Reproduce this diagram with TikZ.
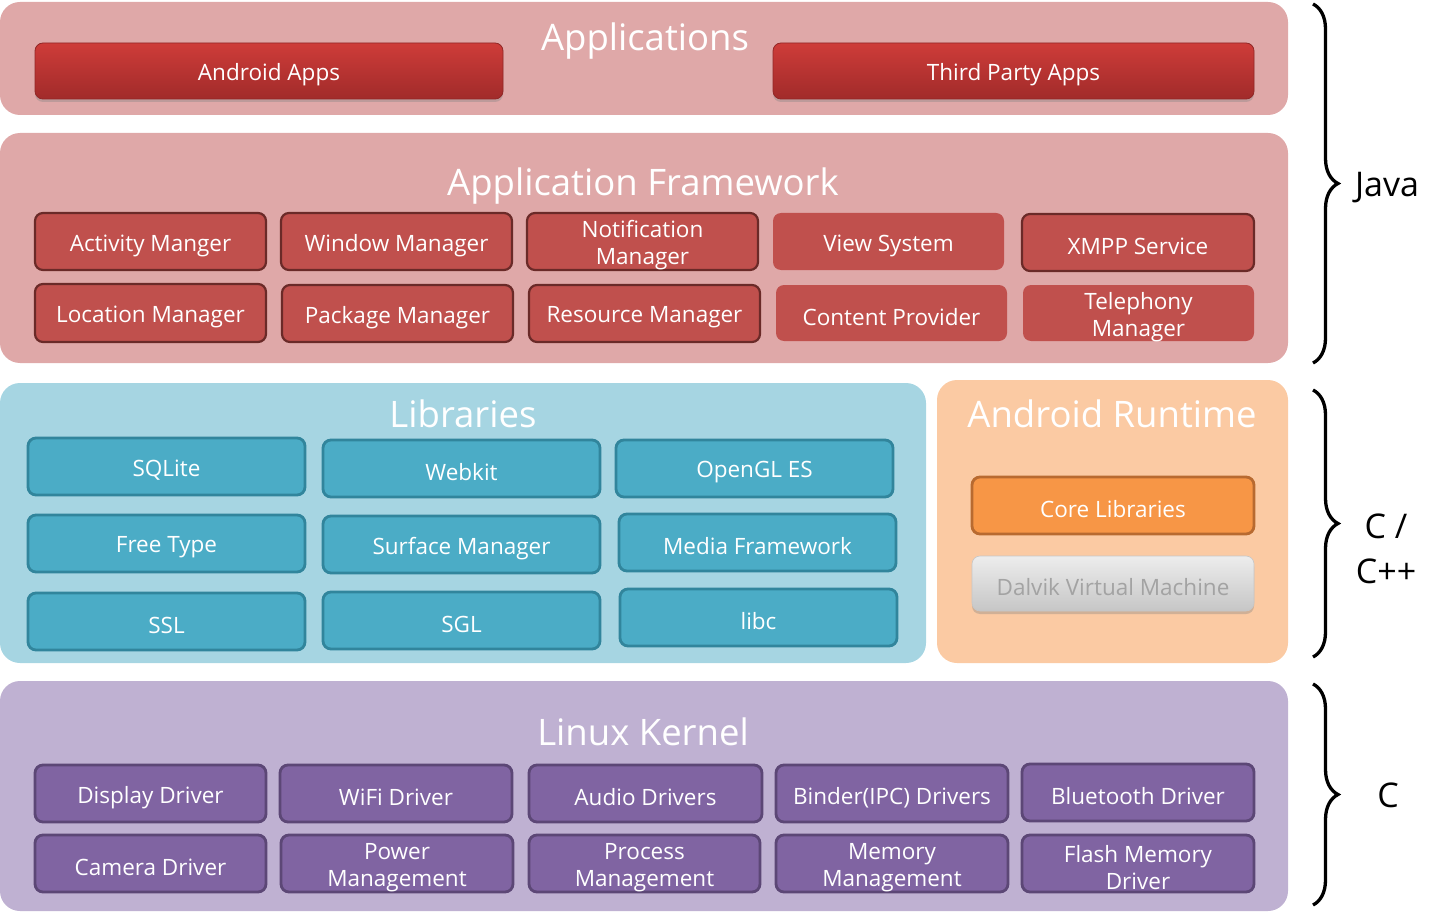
\documentclass[tikz,border=0pt]{standalone}
\usepackage{fontspec}
\setmainfont{Open Sans}
\usetikzlibrary{shadows,decorations.pathreplacing}
\definecolor{appbg}{HTML}{DFA8A8}
\definecolor{libbg}{HTML}{A6D5E2}
\definecolor{rtbg}{HTML}{FBCAA3}
\definecolor{krbg}{HTML}{BFB1D2}
\definecolor{fwfill}{HTML}{C0504D}
\definecolor{fwline}{HTML}{6A2A28}
\definecolor{libfill}{HTML}{4BACC6}
\definecolor{libline}{HTML}{31859C}
\definecolor{krfill}{HTML}{8064A2}
\definecolor{krline}{HTML}{5C4776}
\definecolor{corefill}{HTML}{F79646}
\definecolor{coreline}{HTML}{B86A30}
\definecolor{redtop}{HTML}{CE3C39}
\definecolor{redbot}{HTML}{A12B2A}
\definecolor{graytop}{HTML}{EDEDED}
\definecolor{graybot}{HTML}{C6C6C6}
\definecolor{graytxt}{HTML}{A3A3A3}
\newcommand\BX[8][white]{\node[#2, minimum width={#5-#3}, minimum height={#6-#4}] (#7) at ({(#3+#5)/2},{(#4+#6)/2}) {};
  \node[btxt, text=#1] (#7t) at ([yshift=-4pt]#7.center) {#8};}
\newcommand\PN[6]{\node[#1, minimum width={#4-#2}, minimum height={#5-#3}] (#6) at ({(#2+#4)/2},{(#3+#5)/2}) {};}
\begin{document}
\begin{tikzpicture}[x=1pt,y=-1pt,
  panel/.style={rounded corners=20pt, inner sep=0pt},
  ttl/.style={text=white, font=\fontsize{36.5}{40}\selectfont, inner sep=0pt},
  box/.style={rounded corners=8pt, line width=2.2pt, inner sep=0pt},
  btxt/.style={align=center, inner sep=0pt, font=\fontsize{22.5}{27}\selectfont},
  fwbox/.style={box, fill=fwfill, draw=fwline},
  fwplain/.style={box, fill=fwfill},
  libbox/.style={box, fill=libfill, draw=libline, line width=2.8pt},
  krbox/.style={box, fill=krfill, draw=krline, line width=2.8pt},
  appbtn/.style={box, top color=redtop, bottom color=redbot, draw=redbot!90!black, line width=0.8pt,
    drop shadow={shadow xshift=0pt, shadow yshift=-3pt, opacity=0.35}},
  corebox/.style={box, fill=corefill, draw=coreline, line width=2.8pt},
  dvbox/.style={box, top color=graytop, bottom color=graybot, draw=graybot, line width=0.6pt,
    drop shadow={shadow xshift=0pt, shadow yshift=-3pt, opacity=0.35}},
  brc/.style={decorate, decoration={brace, amplitude=25pt}, line width=3.3pt},
  lang/.style={font=\fontsize{34}{45}\selectfont, align=center, inner sep=0pt}
]
\useasboundingbox (0,0) rectangle (1451,912);
% panels
\PN{panel, fill=appbg}{0}{2}{1288}{115}{papp}
\PN{panel, fill=appbg}{0}{133}{1288}{363}{pfw}
\PN{panel, fill=libbg}{0}{383}{926}{663}{plib}
\PN{panel, fill=rtbg}{937}{380}{1288}{663}{prt}
\PN{panel, fill=krbg}{0}{681}{1288}{911}{pkr}
% titles
\node[ttl] (tapp) at (645,41) {Applications};
\node[ttl] (tfw) at (643,186) {Application Framework};
\node[ttl] (tlib) at (463,414) {Libraries};
\node[ttl] (trt) at (1112,414) {Android Runtime};
\node[ttl] (tkr) at (643,732) {Linux Kernel};
% applications
\BX{appbtn}{35}{43}{503}{99}{aa}{Android Apps}
\BX{appbtn}{773}{43}{1254}{99}{tpa}{Third Party Apps}
% framework
\BX{fwbox}{35}{213}{266}{270}{f1}{Activity Manger}
\BX{fwbox}{281}{213}{512}{270}{f2}{Window Manager}
\BX{fwbox}{527}{213}{758}{270}{f3}{Notification\\Manager}
\BX{fwplain}{773}{213}{1004}{270}{f4}{View System}
\BX{fwbox}{1022}{214}{1254}{271}{f5}{XMPP Service}
\BX{fwbox}{35}{284}{266}{342}{f6}{Location Manager}
\BX{fwbox}{282}{285}{513}{342}{f7}{Package Manager}
\BX{fwbox}{529}{285}{760}{342}{f8}{Resource Manager}
\BX{fwplain}{776}{285}{1007}{341}{f9}{Content Provider}
\BX{fwplain}{1023}{285}{1254}{341}{f10}{Telephony\\Manager}
% libraries
\BX{libbox}{28}{438}{305}{495}{l1}{SQLite}
\BX{libbox}{323}{440}{600}{497}{l2}{Webkit}
\BX{libbox}{616}{440}{893}{497}{l3}{OpenGL ES}
\BX{libbox}{28}{515}{305}{572}{l4}{Free Type}
\BX{libbox}{323}{516}{600}{573}{l5}{Surface Manager}
\BX{libbox}{619}{514}{896}{571}{l6}{Media Framework}
\BX{libbox}{28}{593}{305}{650}{l7}{SSL}
\BX{libbox}{323}{592}{600}{649}{l8}{SGL}
\BX{libbox}{620}{589}{897}{646}{l9}{libc}
% runtime
\BX{corebox}{972}{477}{1254}{534}{core}{Core Libraries}
\BX[graytxt]{dvbox}{972}{556}{1254}{611}{dvm}{Dalvik Virtual Machine}
% kernel
\BX{krbox}{35}{765}{266}{822}{k1}{Display Driver}
\BX{krbox}{280}{765}{512}{822}{k2}{WiFi Driver}
\BX{krbox}{529}{765}{762}{822}{k3}{Audio Drivers}
\BX{krbox}{776}{765}{1008}{822}{k4}{Binder(IPC) Drivers}
\BX{krbox}{1022}{764}{1254}{821}{k5}{Bluetooth Driver}
\BX{krbox}{35}{835}{266}{892}{k6}{Camera Driver}
\BX{krbox}{281}{835}{513}{892}{k7}{Power\\Management}
\BX{krbox}{529}{835}{760}{892}{k8}{Process\\Management}
\BX{krbox}{776}{835}{1008}{892}{k9}{Memory\\Management}
\BX{krbox}{1022}{835}{1254}{892}{k10}{Flash Memory\\Driver}
% braces
\coordinate (bj1) at (1313,4);
\coordinate (bj2) at (1313,363);
\coordinate (bc1) at (1313,390);
\coordinate (bc2) at (1313,657);
\coordinate (bk1) at (1313,684);
\coordinate (bk2) at (1313,905);
\draw[brc] (bj1) -- (bj2);
\draw[brc] (bc1) -- (bc2);
\draw[brc] (bk1) -- (bk2);
\node[lang] (java) at (1387,188) {Java};
\node[lang] (cpp) at (1386,549) {C /\\C++};
\node[lang] (c) at (1388,795) {C};
\end{tikzpicture}
\end{document}
